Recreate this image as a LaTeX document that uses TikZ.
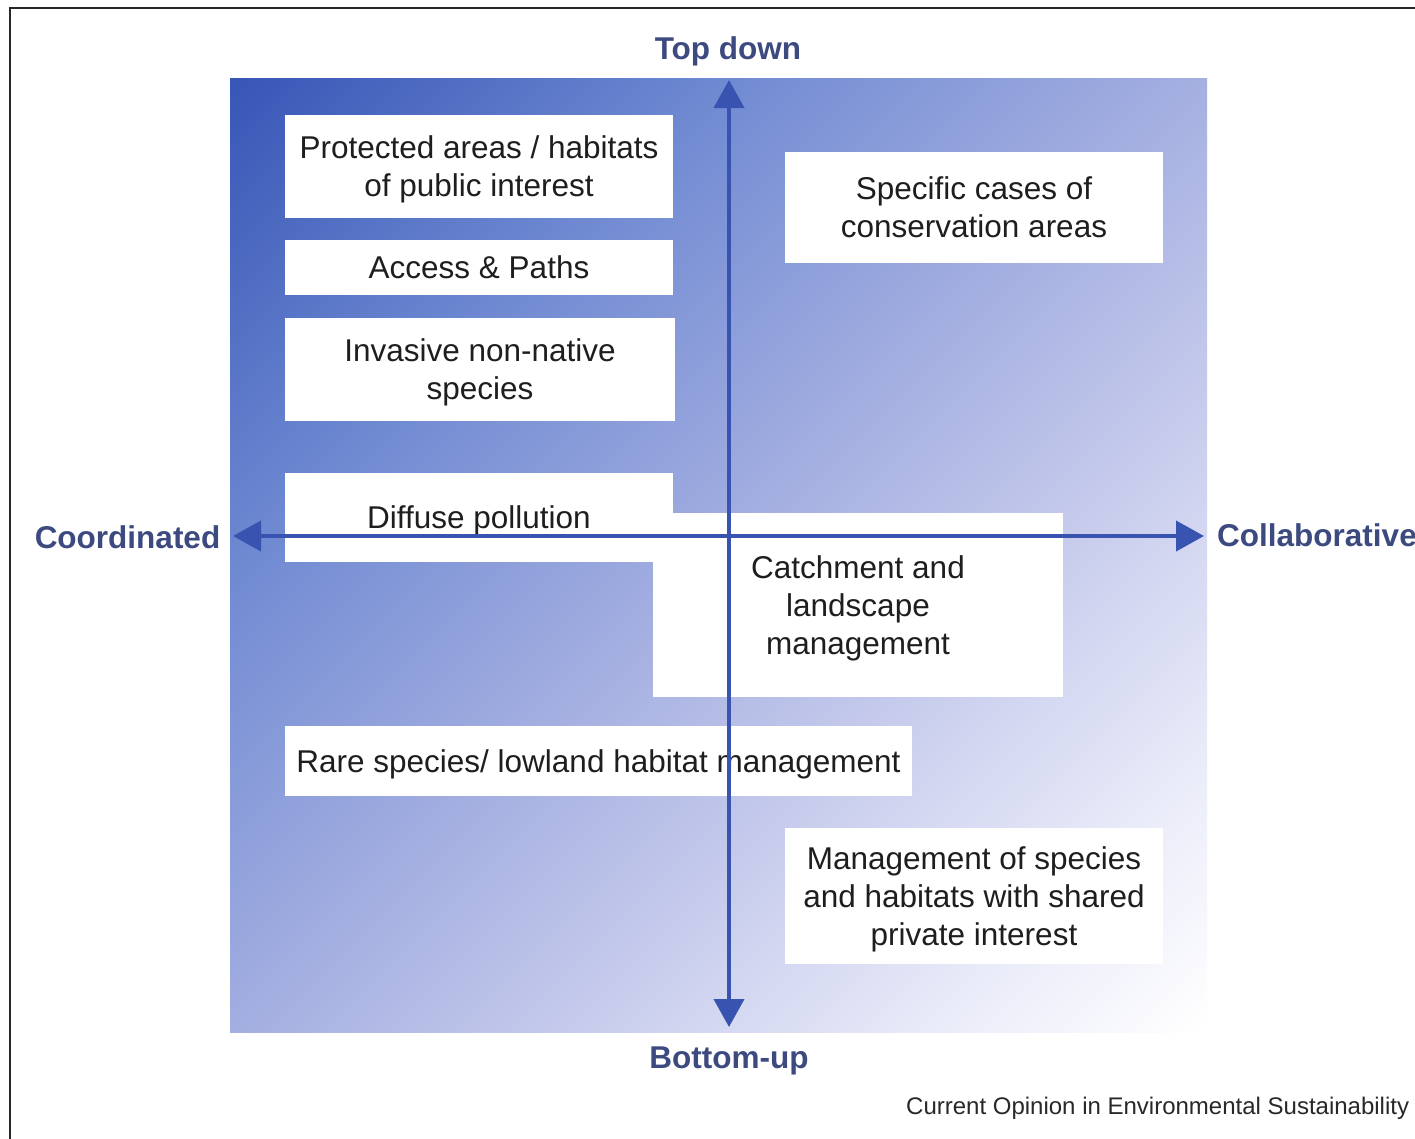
\documentclass[tikz,border=0pt]{standalone}
\usepackage{fontspec}
\setmainfont{Liberation Sans}
\usetikzlibrary{arrows.meta}
\definecolor{axisblue}{RGB}{56,84,176}
\definecolor{labelblue}{RGB}{60,74,128}
\definecolor{boxtext}{RGB}{30,30,30}
\definecolor{framegray}{RGB}{40,40,40}
% colour stops of the background, from the dark corner to the light one
\definecolor{g0}{RGB}{55,86,182}
\definecolor{g1}{RGB}{112,138,210}
\definecolor{g2}{RGB}{164,175,225}
\definecolor{g3}{RGB}{198,203,236}
\definecolor{g4}{RGB}{232,234,248}
\pgfdeclareverticalshading{bggrad}{100bp}{color(0bp)=(white); color(14.6bp)=(white);
  color(25.2bp)=(g4); color(38bp)=(g3); color(50bp)=(g2); color(67bp)=(g1);
  color(85.4bp)=(g0); color(100bp)=(g0)}
\begin{document}
\begin{tikzpicture}[x=1pt,y=-1pt,
  box/.style={fill=white, inner sep=0pt, align=center, text=boxtext, text depth=0pt,
    font=\fontsize{31.5}{38}\selectfont},
  axislabel/.style={text=labelblue, inner sep=0pt, text depth=0pt,
    font=\bfseries\fontsize{31.5}{38}\selectfont},
  axisline/.style={draw=axisblue, line width=4pt,
    {Triangle[width=30pt,length=28pt]}-{Triangle[width=30pt,length=28pt]}}]

% page
\clip (0,0) rectangle (1415,1138);
\fill[white] (0,0) rectangle (1415,1138);
\draw[framegray, line width=2pt] (10,1140) -- (10,8) -- (1417,8);

% graded background square
\shade[shading=bggrad, shading angle=45] (230,78) rectangle (1207,1032);

% boxes
\node[box, minimum width=388pt, minimum height=103pt] (prot) at (479,166.5)
  {Protected areas / habitats\\of public interest};
\node[box, minimum width=388pt, minimum height=55pt] (access) at (479,267.5)
  {Access \& Paths};
\node[box, minimum width=390pt, minimum height=103pt] (invasive) at (480,369.5)
  {Invasive non-native\\species};
\node[box, minimum width=388pt, minimum height=89pt] (diffuse) at (479,517.5)
  {Diffuse pollution};
\node[box, minimum width=410pt, minimum height=184pt] (catch) at (858,605)
  {Catchment and\\landscape\\management};
\node[box, minimum width=378pt, minimum height=111pt] (specific) at (974,207.5)
  {Specific cases of\\conservation areas};
\node[box, minimum width=627pt, minimum height=70pt] (rare) at (598.5,761)
  {Rare species/ lowland habitat management};
\node[box, minimum width=378pt, minimum height=136pt] (shared) at (974,896)
  {Management of species\\and habitats with shared\\private interest};

% axis labels
\node[axislabel] (top) at (728,48) {Top down};
\node[axislabel] (bottom) at (729,1058) {Bottom-up};
\node[axislabel] (left) at (127.5,537) {Coordinated};
\node[axislabel, anchor=west] (right) at (1217,535) {Collaborative};

% axes
\coordinate (ytop) at (729,80);
\coordinate (ybot) at (729,1027);
\coordinate (xleft) at (233,536);
\coordinate (xright) at (1204,536);
\draw[axisline] (ytop) -- (ybot);
\draw[axisline] (xleft) -- (xright);

% source line
\node[anchor=west, inner sep=0pt, text depth=0pt, text=framegray,
  font=\fontsize{24}{29}\selectfont]
  (source) at (906,1106) {Current Opinion in Environmental Sustainability};
\end{tikzpicture}
\end{document}
